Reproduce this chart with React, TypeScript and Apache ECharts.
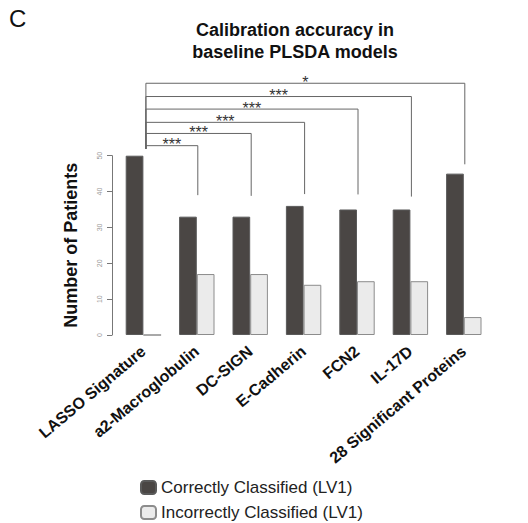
import React, { useEffect, useRef } from "react";
import * as echarts from "echarts";

// Models compared against the LASSO signature
const categories = [
  "LASSO Signature",
  "a2-Macroglobulin",
  "DC-SIGN",
  "E-Cadherin",
  "FCN2",
  "IL-17D",
  "28 Significant Proteins",
];

// Patients per model (LV1)
const correctlyClassified = [50, 33, 33, 36, 35, 35, 45];
const incorrectlyClassified = [0, 17, 17, 14, 15, 15, 5];

const seriesNames = ["Correctly Classified (LV1)", "Incorrectly Classified (LV1)"];

// Significance brackets: LASSO Signature vs. each other model
const bracketTargets = [1, 2, 3, 4, 5, 6];
const bracketLevels = [52.8, 56.2, 59.3, 63.0, 66.5, 70.2];
const bracketEnds = [39.0, 38.8, 39.3, 39.2, 38.6, 47.6];
const bracketStart = 51.9;
const bracketStars = ["***", "***", "***", "***", "***", "*"];

const FONT = "'Liberation Sans', Arial, Helvetica, sans-serif";

export default function App() {
  const ref = useRef<HTMLDivElement>(null);

  useEffect(() => {
    if (!ref.current) return;
    const chart = echarts.init(ref.current, null, { renderer: "svg" });

    const option: any = {
      animation: false,
      backgroundColor: "#ffffff",
      textStyle: { fontFamily: FONT },
      graphic: [
        {
          type: "text",
          left: 9,
          top: 6,
          style: { text: "C", fontSize: 24, fontFamily: FONT, fill: "#111" },
        },
        {
          type: "text",
          x: 295,
          y: 41,
          style: {
            text: "Calibration accuracy in\nbaseline PLSDA models",
            fontSize: 18,
            fontWeight: "bold",
            fontFamily: FONT,
            fill: "#111",
            align: "center",
            verticalAlign: "middle",
            lineHeight: 22,
          },
        },
      ],
      legend: {
        orient: "vertical",
        left: 140,
        top: 479,
        height: 60,
        padding: 0,
        itemWidth: 15,
        itemHeight: 13,
        itemGap: 8,
        selectedMode: false,
        data: seriesNames,
        textStyle: { fontSize: 17, color: "#222", fontFamily: FONT },
      },
      grid: { left: 116.7, right: 37.5, top: 155.7, bottom: 188 },
      xAxis: {
        type: "category",
        data: categories,
        axisLine: { show: false },
        axisTick: { show: false },
        axisLabel: {
          interval: 0,
          rotate: 40,
          margin: 14,
          fontSize: 16,
          fontWeight: "bold",
          color: "#111",
          fontFamily: FONT,
        },
      },
      yAxis: {
        type: "value",
        min: 0,
        max: 50,
        interval: 10,
        offset: 4.7,
        splitLine: { show: false },
        axisLine: { show: true, lineStyle: { color: "#777", width: 1 } },
        axisTick: { show: true, length: 5, lineStyle: { color: "#777" } },
        axisLabel: { rotate: 90, fontSize: 7, color: "#999", margin: 9 },
        name: "Number of Patients",
        nameLocation: "middle",
        nameGap: 32,
        nameTextStyle: { fontSize: 18, fontWeight: "bold", color: "#111", fontFamily: FONT },
      },
      series: [
        {
          name: seriesNames[0],
          type: "bar",
          data: correctlyClassified,
          barWidth: 17.7,
          barGap: "0%",
          itemStyle: { color: "#4a4644", borderColor: "#5a5a5a", borderWidth: 1 },
        },
        {
          name: seriesNames[1],
          type: "bar",
          data: incorrectlyClassified,
          barWidth: 17.7,
          barGap: "0%",
          itemStyle: { color: "#ebebeb", borderColor: "#8c8c8c", borderWidth: 1 },
        },
        {
          name: "brackets",
          type: "custom",
          z: 5,
          clip: false,
          data: bracketTargets.map((t, i) => [t, bracketLevels[i]]),
          encode: { x: 0, y: 1 },
          renderItem: (params: any, api: any) => {
            const i = params.dataIndex;
            const start = api.coord([0, bracketStart]);
            const top = api.coord([0, bracketLevels[i]]);
            const right = api.coord([bracketTargets[i], bracketLevels[i]]);
            const end = api.coord([bracketTargets[i], bracketEnds[i]]);
            const lx = start[0] + 2.5;
            const rx = right[0] + 1;
            return {
              type: "group",
              children: [
                {
                  type: "polyline",
                  shape: {
                    points: [
                      [lx, start[1]],
                      [lx, top[1]],
                      [rx, top[1]],
                      [rx, end[1]],
                    ],
                  },
                  style: { stroke: "#666", lineWidth: 1, fill: "none" },
                },
                {
                  type: "text",
                  x: (lx + rx) / 2,
                  y: top[1] - 1,
                  style: {
                    text: bracketStars[i],
                    fontSize: 16,
                    fontFamily: FONT,
                    fill: "#333",
                    align: "center",
                    verticalAlign: "middle",
                  },
                },
              ],
            };
          },
        },
      ],
    };

    chart.setOption(option);
    return () => chart.dispose();
  }, []);

  return (
    <div
      ref={ref}
      style={{ position: "fixed", left: 0, top: 0, width: 528, height: 523 }}
    />
  );
}
